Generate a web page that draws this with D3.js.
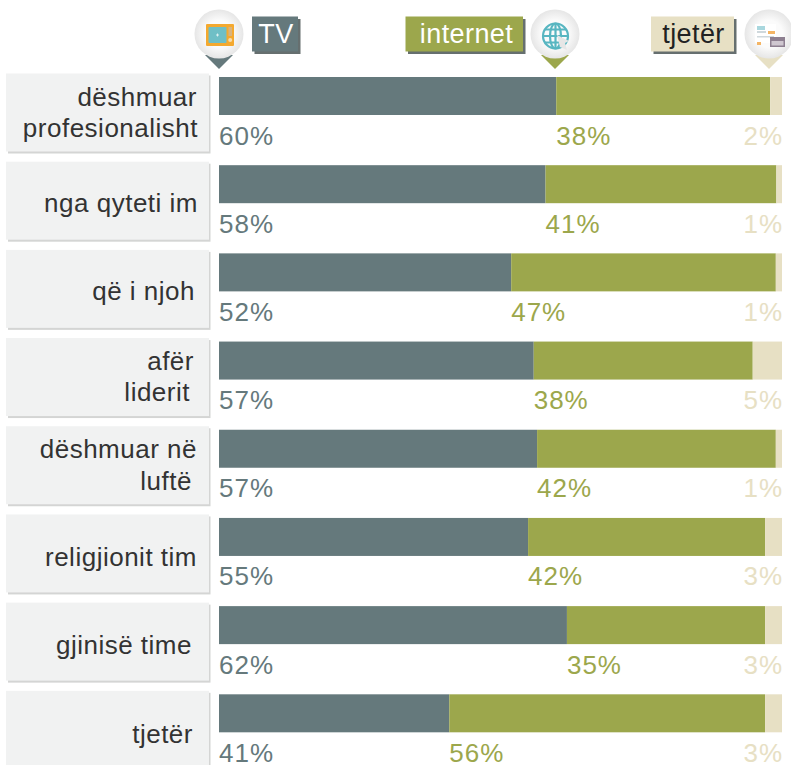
<!DOCTYPE html>
<html><head><meta charset="utf-8">
<script src="https://cdn.jsdelivr.net/npm/d3@7"></script>
<style>html,body{margin:0;padding:0;background:#fff}svg{display:block}text{font-family:"Liberation Sans",Arial,sans-serif}</style>
</head><body><svg id="c" width="791" height="765"></svg>
<script>
const categories = [["dëshmuar","profesionalisht"],["nga qyteti im"],["që i njoh"],["afër","liderit"],["dëshmuar në","luftë"],["religjionit tim"],["gjinisë time"],["tjetër"]];
const seriesNames = ["TV","internet","tjetër"];
const tvValues = [59.9,58,51.9,55.9,56.5,54.9,61.8,40.9];
const internetValues = [38,41,47,38.9,42.4,42.1,35.2,56.1];
const otherValues = [2.1,1,1.1,5.2,1.1,3,3,3];
const tvLabels = ["60%","58%","52%","57%","57%","55%","62%","41%"];
const internetLabels = ["38%","41%","47%","38%","42%","42%","35%","56%"];
const otherLabels = ["2%","1%","1%","5%","1%","3%","3%","3%"];
const colors = ["#65797c","#9ca74c","#e7e0c4"];
// per-line placement of the category text, as it sits in the reference
const lineRight = [[197,198],[198],[195],[194,190],[197,192],[197],[192],[193]];
const lineY = [[32,63],[50],[50],[32,63],[32,63.5],[51.5],[51.5],[52]];

const svg = d3.select("#c");
const x = d3.scaleLinear().domain([0,100]).range([219,782]);
const rowScale = d3.scaleBand().domain(d3.range(categories.length)).range([73.5,779]);
const rowTop = i => rowScale(i);

const rows = svg.selectAll("g.row").data(categories).join("g").attr("class","row")
  .attr("transform",(d,i)=>`translate(0,${rowTop(i)})`);
rows.append("rect").attr("x",8).attr("y",2).attr("width",202.5).attr("height",78).attr("fill","#d4d5d4");
rows.append("rect").attr("x",6).attr("y",0).attr("width",203).attr("height",78).attr("fill","#f1f2f2");
rows.each(function(d,i){
  const g = d3.select(this);
  d.forEach((t,k)=>g.append("text").attr("x",lineRight[i][k]).attr("y",lineY[i][k]).attr("text-anchor","end")
    .attr("font-size",26).attr("letter-spacing",0.5).attr("fill","#333").text(t));
});
rows.each(function(d,i){
  const g = d3.select(this);
  const segs = [tvValues[i],internetValues[i],otherValues[i]];
  let acc = 0;
  segs.forEach((v,k)=>{
    g.append("rect").attr("x",x(acc)).attr("y",3.5).attr("width",x(acc+v)-x(acc)).attr("height",38).attr("fill",colors[k]);
    acc += v;
  });
  const lab = (px,anchor,c,t)=>g.append("text").attr("x",px).attr("y",71).attr("text-anchor",anchor)
    .attr("font-size",26).attr("letter-spacing",1).attr("fill",c).text(t);
  lab(x(0),"start",colors[0],tvLabels[i]);
  lab(x(tvValues[i]),"start",colors[1],internetLabels[i]);
  lab(783,"end",colors[2],otherLabels[i]);
});

const legend = [
 {n:seriesNames[0],x:252,w:46,c:colors[0],t:"#fff",tx:276},
 {n:seriesNames[1],x:405.5,w:117.5,c:colors[1],t:"#fff",tx:466.5},
 {n:seriesNames[2],x:651,w:83,c:colors[2],t:"#222",tx:693.5}];
legend.forEach(l=>{
  svg.append("rect").attr("x",l.x+2.5).attr("y",19).attr("width",l.w).attr("height",35).attr("fill","#666f6f");
  svg.append("rect").attr("x",l.x).attr("y",16.5).attr("width",l.w).attr("height",35).attr("fill",l.c);
  svg.append("text").attr("x",l.tx).attr("y",43).attr("text-anchor","middle").attr("font-size",27).attr("letter-spacing",0.4).attr("fill",l.t).text(l.n);
});

const pins = [{cx:219,c:colors[0]},{cx:555,c:colors[1]},{cx:769,c:colors[2]}];
const grad = svg.append("defs").append("radialGradient").attr("id","pin");
grad.append("stop").attr("offset","0.55").attr("stop-color","#fbfbfb");
grad.append("stop").attr("offset","1").attr("stop-color","#e6e6e6");
pins.forEach(p=>{
  svg.append("path").attr("d",`M${p.cx-14},55 L${p.cx},69 L${p.cx+14},55 Z`).attr("fill",p.c);
  svg.append("circle").attr("cx",p.cx).attr("cy",34).attr("r",24.5).attr("fill","url(#pin)");
});
// TV icon
const tv = svg.append("g").attr("transform","translate(206,24)");
tv.append("rect").attr("width",28).attr("height",22).attr("rx",1).attr("fill","#f4a92f");
tv.append("rect").attr("x",2.5).attr("y",3).attr("width",18).attr("height",16).attr("rx",1).attr("fill","#6fbfc6");
tv.append("rect").attr("x",22.5).attr("y",3).attr("width",3.5).attr("height",9).attr("fill","#d9b37e");
tv.append("circle").attr("cx",24.2).attr("cy",16).attr("r",2).attr("fill","#f7dcae");
tv.append("path").attr("d","M10,11H13M11.5,9.5V12.5").attr("stroke","#eef7f8").attr("stroke-width",0.8);
// globe icon
const gl = svg.append("g").attr("transform","translate(555.5,36)").attr("fill","none").attr("stroke","#58b6c1").attr("stroke-width",2.2);
gl.append("circle").attr("r",12.5);
gl.append("ellipse").attr("rx",5.5).attr("ry",12.5);
gl.append("path").attr("d","M0,-12.5V12.5M-12.5,0H12.5M-10.5,-6.5H10.5M-10.5,6.5H10.5");
svg.append("path").attr("d","M557,35 L569,41 L565,43 L567,50 L560,47 Z").attr("fill","#e6e6e6");
// news icon
const nw = svg.append("g").attr("transform","translate(755,24)");
nw.append("rect").attr("width",21).attr("height",19).attr("fill","#fff");
nw.append("rect").attr("x",2).attr("y",2).attr("width",8).attr("height",4).attr("fill","#a9d7de");
nw.append("rect").attr("x",2).attr("y",7).attr("width",9).attr("height",2).attr("fill","#cfd8dc");
nw.append("rect").attr("x",13).attr("y",7).attr("width",7).attr("height",3).attr("fill","#f4b565");
nw.append("rect").attr("x",2).attr("y",12).attr("width",17).attr("height",1.5).attr("fill","#cfd8dc");
nw.append("rect").attr("x",2).attr("y",18).attr("width",4).attr("height",3).attr("fill","#f4b565");
nw.append("rect").attr("x",15).attr("y",13).attr("width",15).attr("height",10).attr("fill","#8d7f90");
nw.append("rect").attr("x",16.5).attr("y",17).attr("width",12).attr("height",4.5).attr("fill","#cfc7d0");
</script></body></html>
